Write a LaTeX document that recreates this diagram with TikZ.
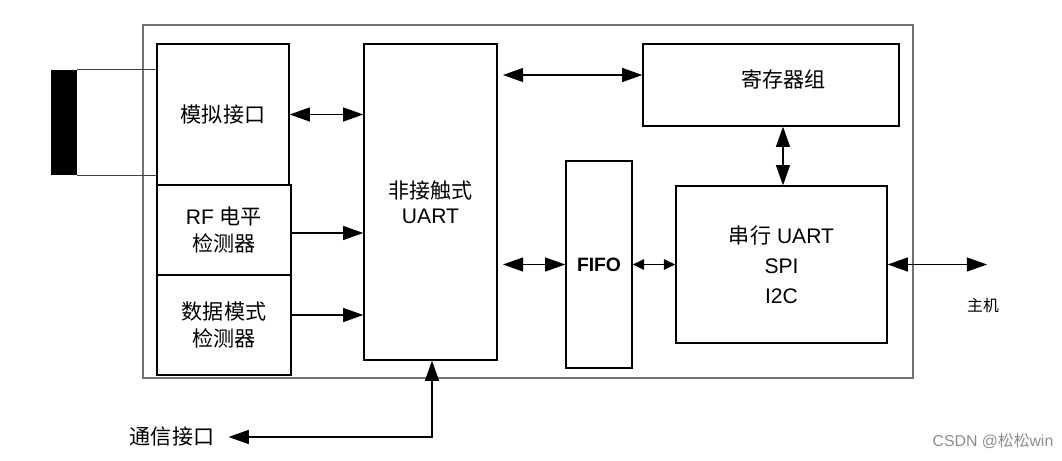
\documentclass[tikz,border=0pt]{standalone}
\usepackage{fontspec}
\setmainfont{Liberation Sans}
\newfontfamily\cjk{Noto Sans CJK SC}
\usetikzlibrary{arrows.meta}

\begin{document}
\begin{tikzpicture}[x=0.02cm,y=-0.02cm,>={Triangle[length=11.5pt,width=8pt]},
  box/.style={draw,line width=0.85pt,inner sep=0pt,align=center,font=\fontsize{12}{15}\selectfont},
  link/.style={line width=0.7pt},
  small/.style={>={Triangle[length=6.5pt,width=6pt]}}]
\useasboundingbox (0,0) rectangle (1062,460);
\node[draw=black!55,line width=1.2pt,minimum width=15.4cm,minimum height=7.06cm] (chip) at (528,201.5) {};
\node[fill=black,inner sep=0pt,minimum width=0.52cm,minimum height=2.1cm] (plug) at (64,122.5) {};

\node[box,minimum width=2.64cm,minimum height=2.82cm] (analog) at (223,114.5) {\cjk 模拟接口};
\node[box,minimum width=2.68cm,minimum height=1.8cm] (rf) at (224,230) {RF {\cjk 电平}\\{\cjk 检测器}};
\node[box,minimum width=2.68cm,minimum height=2.0cm] (data) at (224,325) {{\cjk 数据模式}\\{\cjk 检测器}};
\node[box,minimum width=2.66cm,minimum height=6.32cm,font=\fontsize{12}{14}\selectfont] (uart) at (430.5,202) {{\cjk 非接触式}\\UART};
\node[box,minimum width=5.12cm,minimum height=1.64cm,text depth=0.25cm] (reg) at (771,85) {\hspace{0.5cm}\cjk 寄存器组};
\node[box,minimum width=1.32cm,minimum height=4.14cm,font=\fontsize{11}{13}\bfseries] (fifo) at (599,264.5) {FIFO};
\node[box,minimum width=4.22cm,minimum height=3.14cm,font=\fontsize{12}{17}\selectfont] (serial) at (781.5,264.5) {{\cjk 串行} UART\\SPI\\I2C};

\node[font=\cjk\fontsize{9}{11}\selectfont] (host) at (983,305) {主机};
\coordinate (hostend) at (987,264.5);
\node[inner xsep=8pt,font=\cjk\fontsize{12}{14}\selectfont] (comm) at (172,437) {通信接口};
\node[text=black!45,font=\fontsize{9}{11}\selectfont] (mark) at (993,441) {CSDN @{\cjk 松松}win};

\draw[link,black!75] (plug.north east) -- (plug.north east -| analog.west);
\draw[link,black!75] (plug.south east) -- (plug.south east -| analog.west);
\draw[link,<->] (analog.east) -- (analog.east -| uart.west);
\draw[link,->] (rf.east |- 0,233) -- (uart.west |- 0,233);
\draw[link,->] (data.east |- 0,315) -- (uart.west |- 0,315);
\draw[link,<->,shorten <=3pt] (uart.east |- 0,75) -- (reg.west |- 0,75);
\draw[link,<->] (reg.south -| 783,0) -- (serial.north -| 783,0);
\draw[link,<->,shorten <=3pt] (uart.east |- fifo.west) -- (fifo.west);
\draw[link,<->,small] (fifo.east) -- (serial.west);
\draw[link,<->] (serial.east) -- (hostend);
\draw[link,<->] (uart.south -| 432,0) |- (comm.east);
\end{tikzpicture}
\end{document}
